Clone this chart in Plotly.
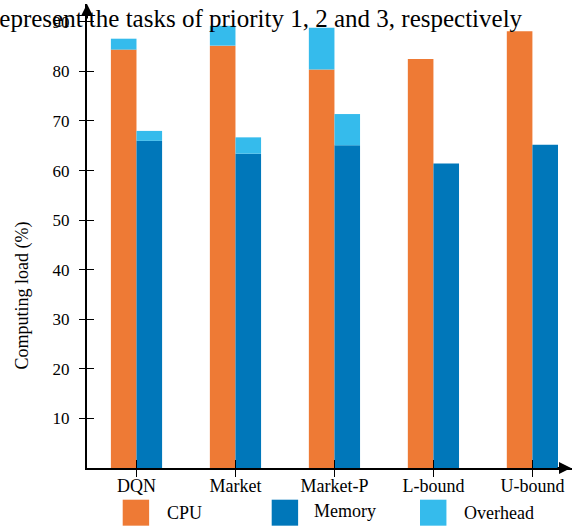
import plotly.graph_objects as go

categories = ["DQN", "Market", "Market-P", "L-bound", "U-bound"]
cpu = [84.4, 85.2, 80.4, 82.5, 88.1]
cpu_overhead = [2.2, 4.0, 8.4, 0, 0]
memory = [66.0, 63.4, 65.1, 61.4, 65.2]
memory_overhead = [2.0, 3.3, 6.3, 0, 0]
y_ticks = [10, 20, 30, 40, 50, 60, 70, 80, 90]
series_names = ["CPU", "Memory", "Overhead"]
caption = "represent the tasks of priority 1, 2 and 3, respectively"
y_title = "Computing load (%)"

ORANGE = "#EE7A35"
BLUE = "#0077BA"
LIGHT = "#35BBEC"
FONT = "Liberation Serif"
BW = 0.2586

fig = go.Figure()
fig.add_trace(go.Bar(x=categories, y=cpu, width=BW, offset=-BW, marker_color=ORANGE,
                     marker_line_width=0, showlegend=False))
fig.add_trace(go.Bar(x=categories, y=cpu_overhead, base=cpu, width=BW, offset=-BW,
                     marker_color=LIGHT, marker_line_width=0, showlegend=False))
fig.add_trace(go.Bar(x=categories, y=memory, width=BW, offset=0, marker_color=BLUE,
                     marker_line_width=0, showlegend=False))
fig.add_trace(go.Bar(x=categories, y=memory_overhead, base=memory, width=BW, offset=0,
                     marker_color=LIGHT, marker_line_width=0, showlegend=False))
# invisible trace to carry the overlay axes (outer halves of the ticks)
fig.add_trace(go.Scatter(x=categories, y=cpu, xaxis="x2", yaxis="y2", mode="markers",
                         marker_opacity=0, showlegend=False, hoverinfo="skip"))

YR = [0, 93.6]
XR = [-0.5, 4.4]
fig.update_layout(
    width=572, height=527,
    margin=dict(l=87, r=0, t=4, b=59, autoexpand=False),
    paper_bgcolor="white", plot_bgcolor="white",
    barmode="overlay",
    font=dict(family=FONT, color="black", size=17),
    xaxis=dict(type="category", categoryorder="array", categoryarray=categories,
               range=XR, showline=True, linewidth=2, linecolor="black", automargin=False,
               ticks="inside", ticklen=8, tickwidth=1.2, tickcolor="black",
               showgrid=False, zeroline=False, tickfont=dict(family=FONT, size=18)),
    yaxis=dict(range=YR, tickvals=y_ticks, showline=True, linewidth=2, linecolor="black",
               ticks="inside", ticklen=7, tickwidth=1.2, tickcolor="black", automargin=False,
               showgrid=False, zeroline=False, ticklabelstandoff=12,
               tickfont=dict(family=FONT, size=17)),
    xaxis2=dict(type="category", categoryorder="array", categoryarray=categories,
                range=XR, overlaying="x", anchor="y2", side="bottom", automargin=False,
                ticks="outside", ticklen=8, tickwidth=1.2, tickcolor="black",
                showticklabels=False, showline=False, showgrid=False, zeroline=False),
    yaxis2=dict(range=YR, tickvals=y_ticks, overlaying="y", anchor="x2", side="left",
                ticks="outside", ticklen=7, tickwidth=1.2, tickcolor="black", automargin=False,
                showticklabels=False, showline=False, showgrid=False, zeroline=False),
)

# axis arrowheads
fig.add_annotation(x=0, y=1, xref="paper", yref="paper", ax=0, ay=16, axref="pixel",
                   ayref="pixel", showarrow=True, arrowhead=2, arrowsize=1.2,
                   arrowwidth=2, arrowcolor="black", text="")
fig.add_annotation(x=1, y=0, xref="paper", yref="paper", ax=-16, ay=0, showarrow=True,
                   arrowhead=2, arrowsize=1.2, arrowwidth=2, arrowcolor="black", text="")

# caption fragment at top
fig.add_annotation(x=0.903, y=0.968, xref="paper", yref="paper", xanchor="right",
                   yanchor="middle", text=caption, showarrow=False,
                   font=dict(family=FONT, size=25, color="black"))

# y axis title
fig.add_annotation(x=-0.134, y=0.372, xref="paper", yref="paper", xanchor="center",
                   yanchor="middle", text=y_title, textangle=-90, showarrow=False,
                   font=dict(family=FONT, size=18, color="black"))

# manual legend with big squares
legend_colors = [ORANGE, BLUE, LIGHT]
sq_x0 = [0.0736, 0.3808, 0.6866]
txt_x = [0.200, 0.532, 0.8495]
txt_y = [-0.0963, -0.0935, -0.0978]
for i, name in enumerate(series_names):
    fig.add_shape(type="rect", xref="paper", yref="paper", x0=sq_x0[i], x1=sq_x0[i] + 0.0545,
                  y0=-0.0683, y1=-0.1243, fillcolor=legend_colors[i], line_width=0)
    fig.add_annotation(x=txt_x[i], y=txt_y[i], xref="paper", yref="paper", text=name,
                       showarrow=False, xanchor="center", yanchor="middle",
                       font=dict(family=FONT, size=18, color="black"))

fig.write_html("out.html", config={"displayModeBar": False},
               post_script="document.body.style.margin='0';")
